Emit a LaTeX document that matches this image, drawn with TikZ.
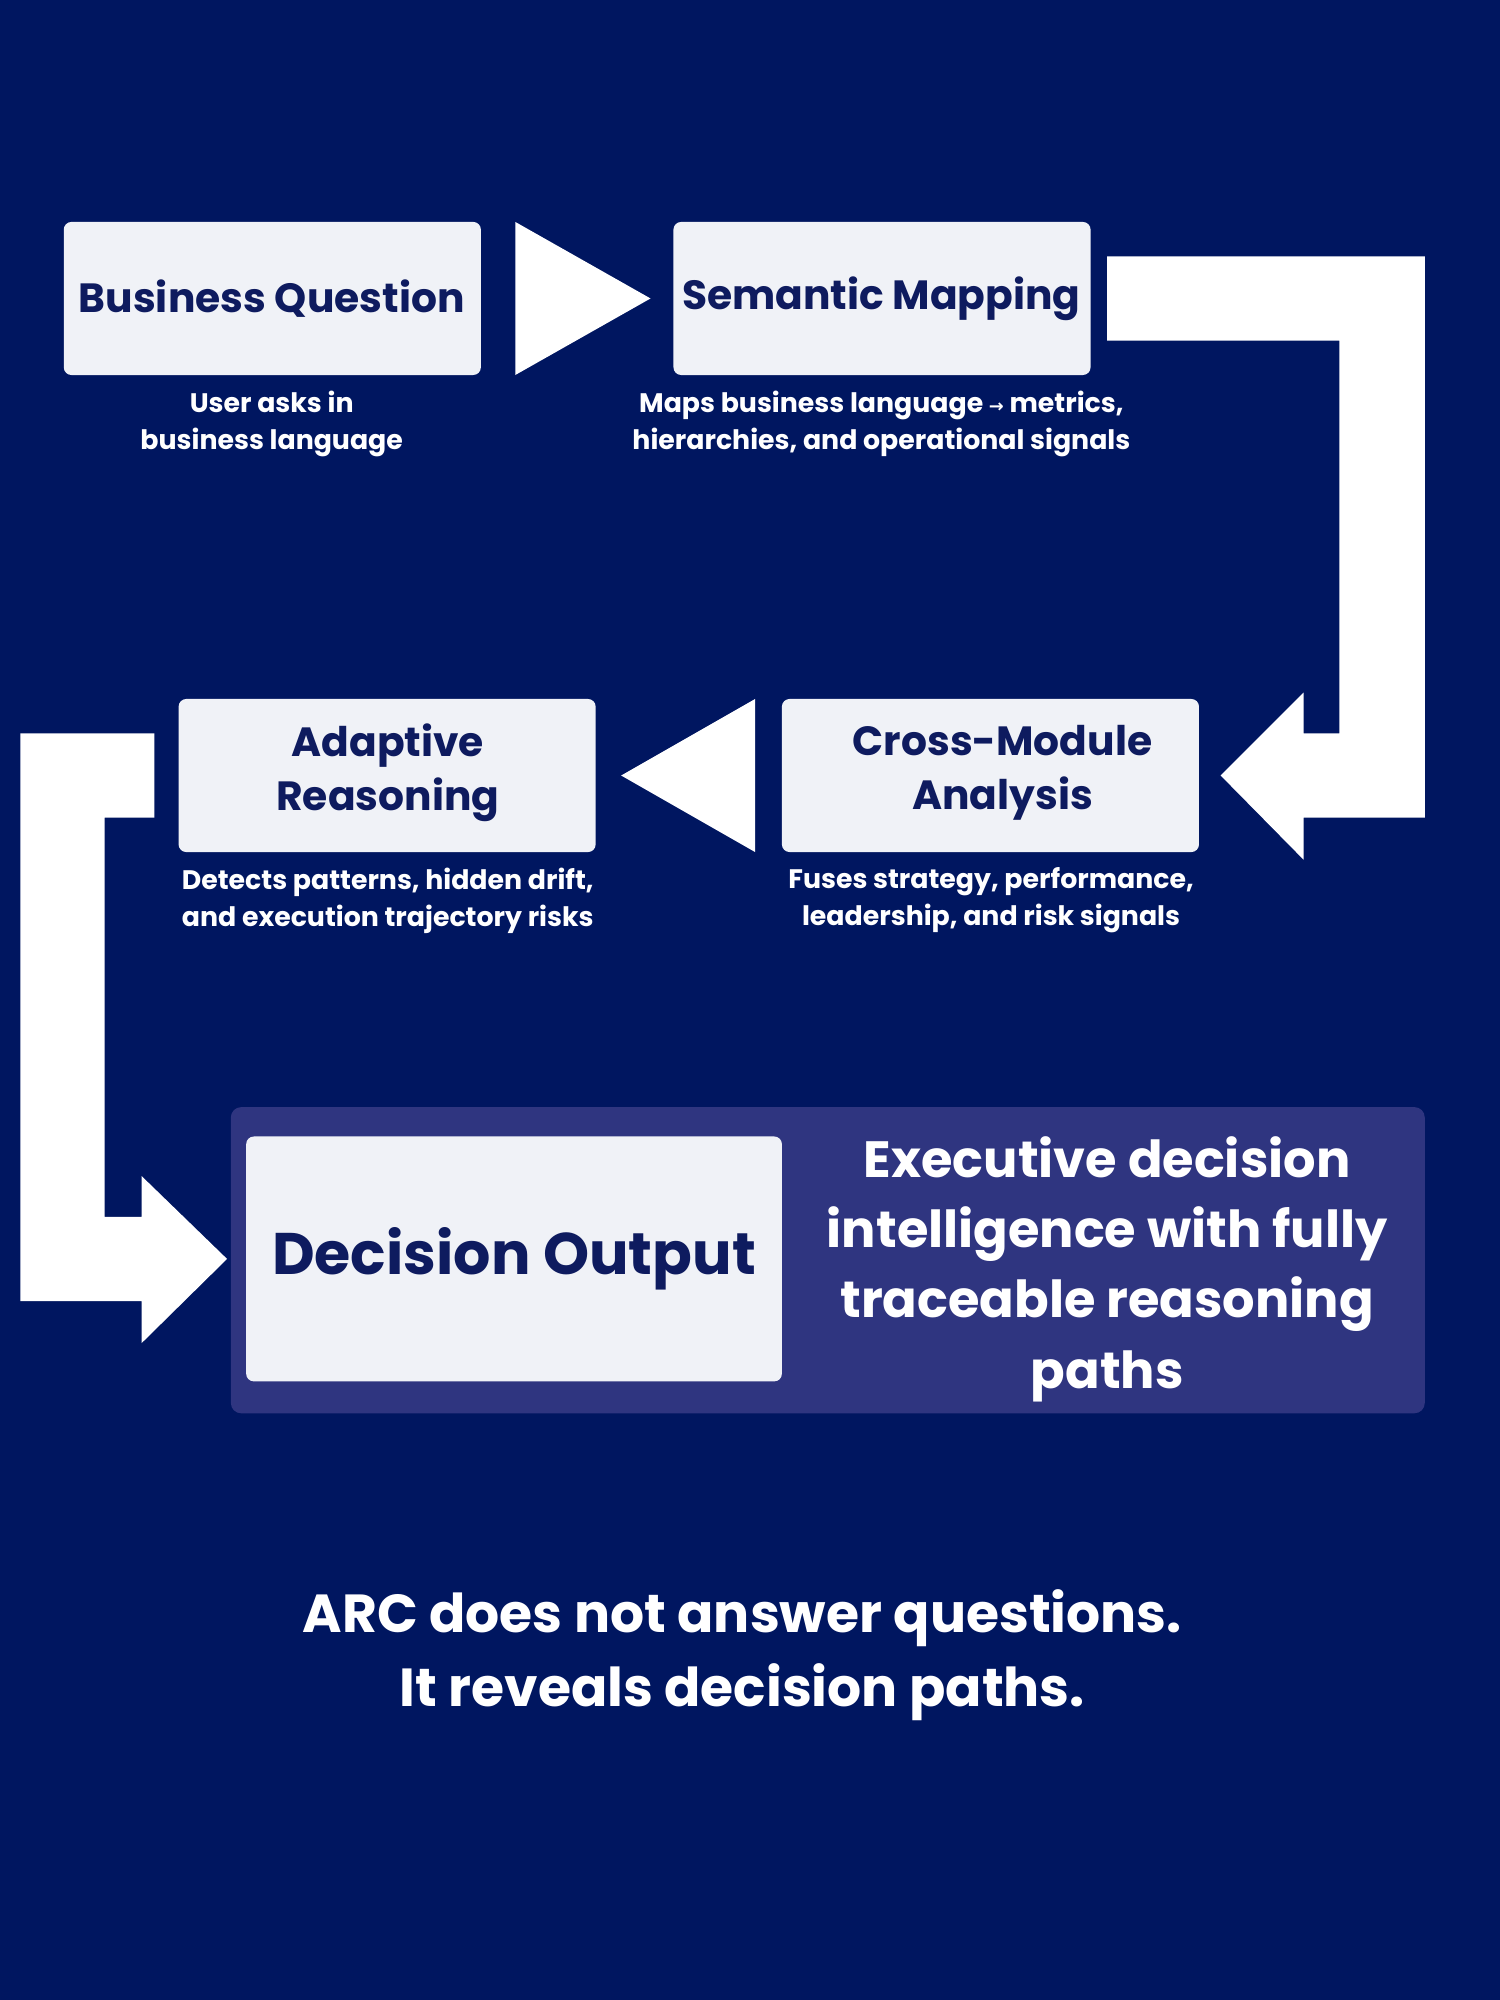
\documentclass[tikz,border=0pt]{standalone}
\usepackage{fontspec}
\setmainfont{Poppins}
\newfontfamily\symfont{DejaVu Sans}
\definecolor{bg}{HTML}{001660}
\definecolor{boxf}{HTML}{F0F2F7}
\definecolor{navy}{HTML}{0E1B5F}
\definecolor{panel}{HTML}{2F3580}
\tikzset{box/.style={fill=boxf,rounded corners=3pt},
 btxt/.style={text=navy,font=\bfseries\fontsize{16}{21}\selectfont,align=center},
 captxt/.style={text=white,font=\bfseries\fontsize{10.5}{14.5}\selectfont,align=center},
 arr/.style={fill=white}}
\begin{document}
\begin{tikzpicture}[x=0.5pt,y=-0.5pt]
\fill[bg] (0,0) rectangle (1176,1568);
\path[box] (50,174) rectangle (377,294);
\node[btxt] (bq) at (213,234) {Business Question};
\path[box] (528,174) rectangle (855,294);
\node[btxt] (sm) at (691,234) {Semantic Mapping};
\path[box] (613,548) rectangle (940,668);
\node[btxt] (cm) at (786,606) {Cross-Module\\Analysis};
\path[box] (140,548) rectangle (467,668);
\node[btxt] (ar) at (304,606) {Adaptive\\Reasoning};
\fill[arr] (404,174)--(404,294)--(510,234)--cycle;
\fill[arr] (592,548)--(592,668)--(487,608)--cycle;
\fill[arr] (868,201)--(1117,201)--(1117,641)--(1022,641)--(1022,674)--(957,608)--(1022,543)--(1022,575)--(1050,575)--(1050,267)--(868,267)--cycle;
\fill[arr] (16,575)--(121,575)--(121,641)--(82,641)--(82,954)--(111,954)--(111,922)--(178,987)--(111,1053)--(111,1020)--(16,1020)--cycle;
\node[captxt] (c1) at (213,332) {User asks in\\business language};
\node[captxt] (c2) at (691,332) {Maps business language {\symfont\fontsize{7}{9}\selectfont →} metrics,\\hierarchies, and operational signals};
\node[captxt] (c3) at (304,706) {Detects patterns, hidden drift,\\and execution trajectory risks};
\node[captxt] (c4) at (777,706) {Fuses strategy, performance,\\leadership, and risk signals};
\fill[panel,rounded corners=4pt] (181,868) rectangle (1117,1108);
\path[box] (193,891) rectangle (613,1083);
\node[text=navy,font=\bfseries\fontsize{23}{28}\selectfont] (do) at (403,987) {Decision Output};
\node[text=white,font=\bfseries\fontsize{20}{27.5}\selectfont,align=center] (pt) at (868,995) {Executive decision\\intelligence with fully\\traceable reasoning\\paths};
\node[text=white,font=\bfseries\fontsize{21}{29}\selectfont,align=center] (ft) at (582,1298) {ARC does not answer questions.\\It reveals decision paths.};
\end{tikzpicture}
\end{document}
